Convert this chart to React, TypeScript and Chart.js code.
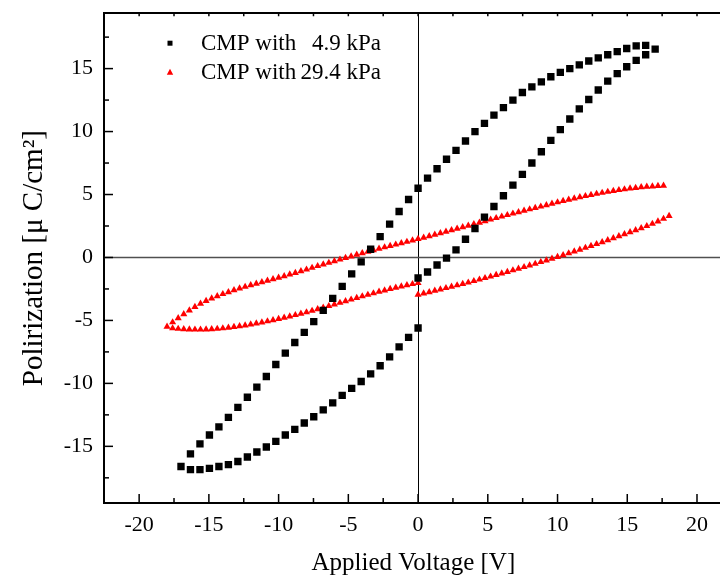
import { useEffect, useRef } from 'react';
import { Chart, registerables } from 'chart.js';

Chart.register(...registerables);

const FONT = "'Liberation Serif', 'Times New Roman', serif";

// ---- Data: CMP with 4.9 kPa (black squares) ----
const LOW_UP_V = [0, 0.68, 1.36, 2.04, 2.72, 3.4, 4.08, 4.76, 5.44, 6.12, 6.8, 7.48, 8.16, 8.84, 9.52, 10.2, 10.88, 11.56, 12.24, 12.92, 13.6, 14.28, 14.96, 15.64, 16.32, 17.0];
const LOW_UP_P = [-1.63, -1.15, -0.6, -0.05, 0.6, 1.45, 2.3, 3.2, 4.05, 4.9, 5.75, 6.6, 7.5, 8.4, 9.3, 10.15, 11.0, 11.8, 12.55, 13.3, 14.0, 14.6, 15.15, 15.65, 16.1, 16.55];
const LOW_DOWN_V = [16.32, 15.64, 14.96, 14.28, 13.6, 12.92, 12.24, 11.56, 10.88, 10.2, 9.52, 8.84, 8.16, 7.48, 6.8, 6.12, 5.44, 4.76, 4.08, 3.4, 2.72, 2.04, 1.36, 0.68, 0, -0.68, -1.36, -2.04, -2.72, -3.4, -4.08, -4.76, -5.44, -6.12, -6.8, -7.48, -8.16, -8.84, -9.52, -10.2, -10.88, -11.56, -12.24, -12.92, -13.6, -14.28, -14.96, -15.64, -16.32, -17.0];
const LOW_DOWN_P = [16.85, 16.8, 16.6, 16.35, 16.1, 15.85, 15.6, 15.3, 15.0, 14.7, 14.35, 13.95, 13.55, 13.1, 12.5, 11.9, 11.3, 10.65, 10.0, 9.25, 8.5, 7.8, 7.05, 6.3, 5.5, 4.6, 3.65, 2.65, 1.65, 0.65, -0.35, -1.3, -2.3, -3.25, -4.2, -5.1, -5.95, -6.75, -7.6, -8.5, -9.45, -10.3, -11.1, -11.9, -12.7, -13.45, -14.1, -14.8, -15.6, -16.6];
const LOW_BACK_V = [-16.32, -15.64, -14.96, -14.28, -13.6, -12.92, -12.24, -11.56, -10.88, -10.2, -9.52, -8.84, -8.16, -7.48, -6.8, -6.12, -5.44, -4.76, -4.08, -3.4, -2.72, -2.04, -1.36, -0.68, 0];
const LOW_BACK_P = [-16.85, -16.85, -16.75, -16.6, -16.45, -16.2, -15.85, -15.45, -15.05, -14.6, -14.1, -13.65, -13.15, -12.65, -12.1, -11.55, -10.95, -10.4, -9.85, -9.25, -8.6, -7.9, -7.1, -6.35, -5.6];

// ---- Data: CMP with 29.4 kPa (red triangles) ----
const HIGH_UP_V = [0, 0.4, 0.8, 1.2, 1.6, 2, 2.4, 2.8, 3.2, 3.6, 4, 4.4, 4.8, 5.2, 5.6, 6, 6.4, 6.8, 7.2, 7.6, 8, 8.4, 8.8, 9.2, 9.6, 10, 10.4, 10.8, 11.2, 11.6, 12, 12.4, 12.8, 13.2, 13.6, 14, 14.4, 14.8, 15.2, 15.6, 16, 16.4, 16.8, 17.2, 17.6, 18];
const HIGH_UP_P = [-2.95, -2.85, -2.75, -2.64, -2.54, -2.43, -2.32, -2.21, -2.1, -1.99, -1.87, -1.75, -1.63, -1.51, -1.39, -1.27, -1.15, -1.02, -0.89, -0.76, -0.63, -0.5, -0.36, -0.23, -0.09, 0.05, 0.19, 0.33, 0.48, 0.62, 0.77, 0.92, 1.07, 1.22, 1.37, 1.53, 1.69, 1.85, 2.01, 2.17, 2.33, 2.5, 2.68, 2.87, 3.07, 3.3];
const HIGH_DOWN_V = [17.6, 17.2, 16.8, 16.4, 16, 15.6, 15.2, 14.8, 14.4, 14, 13.6, 13.2, 12.8, 12.4, 12, 11.6, 11.2, 10.8, 10.4, 10, 9.6, 9.2, 8.8, 8.4, 8, 7.6, 7.2, 6.8, 6.4, 6, 5.6, 5.2, 4.8, 4.4, 4, 3.6, 3.2, 2.8, 2.4, 2, 1.6, 1.2, 0.8, 0.4, 0, -0.4, -0.8, -1.2, -1.6, -2, -2.4, -2.8, -3.2, -3.6, -4, -4.4, -4.8, -5.2, -5.6, -6, -6.4, -6.8, -7.2, -7.6, -8, -8.4, -8.8, -9.2, -9.6, -10, -10.4, -10.8, -11.2, -11.6, -12, -12.4, -12.8, -13.2, -13.6, -14, -14.4, -14.8, -15.2, -15.6, -16, -16.4, -16.8, -17.2, -17.6, -18];
const HIGH_DOWN_P = [5.7, 5.68, 5.65, 5.62, 5.58, 5.53, 5.48, 5.42, 5.36, 5.29, 5.22, 5.14, 5.06, 4.97, 4.88, 4.79, 4.69, 4.59, 4.49, 4.38, 4.27, 4.16, 4.05, 3.94, 3.83, 3.72, 3.6, 3.49, 3.37, 3.25, 3.13, 3.01, 2.89, 2.77, 2.65, 2.53, 2.41, 2.29, 2.17, 2.05, 1.93, 1.81, 1.69, 1.58, 1.47, 1.36, 1.25, 1.14, 1.03, 0.92, 0.81, 0.7, 0.58, 0.46, 0.34, 0.22, 0.09, -0.03, -0.16, -0.29, -0.42, -0.55, -0.68, -0.82, -0.96, -1.09, -1.22, -1.35, -1.48, -1.6, -1.72, -1.84, -1.96, -2.08, -2.2, -2.33, -2.46, -2.6, -2.75, -2.9, -3.07, -3.25, -3.45, -3.67, -3.92, -4.2, -4.5, -4.82, -5.15, -5.5];
const HIGH_BACK_V = [-17.6, -17.2, -16.8, -16.4, -16, -15.6, -15.2, -14.8, -14.4, -14, -13.6, -13.2, -12.8, -12.4, -12, -11.6, -11.2, -10.8, -10.4, -10, -9.6, -9.2, -8.8, -8.4, -8, -7.6, -7.2, -6.8, -6.4, -6, -5.6, -5.2, -4.8, -4.4, -4, -3.6, -3.2, -2.8, -2.4, -2, -1.6, -1.2, -0.8, -0.4, 0];
const HIGH_BACK_P = [-5.62, -5.66, -5.69, -5.71, -5.72, -5.72, -5.71, -5.69, -5.66, -5.62, -5.57, -5.52, -5.46, -5.39, -5.32, -5.24, -5.16, -5.07, -4.98, -4.88, -4.78, -4.68, -4.57, -4.46, -4.35, -4.23, -4.11, -3.99, -3.86, -3.73, -3.6, -3.47, -3.34, -3.21, -3.08, -2.96, -2.84, -2.72, -2.61, -2.5, -2.4, -2.3, -2.2, -2.11, -2.03];

const LEGEND_PREFIX = 'CMP with';
const PRESSURES = ['4.9 kPa', '29.4 kPa'];
const X_TITLE = 'Applied Voltage [V]';
const Y_TITLE = 'Polirization [\u03bc C/cm\u00b2]';
const X_MARKS = [-20, -17.5, -15, -12.5, -10, -7.5, -5, -2.5, 0, 2.5, 5, 7.5, 10, 12.5, 15, 17.5, 20];
const Y_MARKS = [-17.5, -15, -12.5, -10, -7.5, -5, -2.5, 0, 2.5, 5, 7.5, 10, 12.5, 15, 17.5];

function toPoints(vs: number[][], ps: number[][]) {
  const out: { x: number; y: number }[] = [];
  vs.forEach((v, b) => v.forEach((x, i) => out.push({ x, y: ps[b][i] })));
  return out;
}

const framePlugin = {
  id: 'frame',
  beforeDatasetsDraw(chart: any) {
    const { ctx, chartArea } = chart;
    const { left, right, top, bottom } = chartArea;
    const xs = chart.scales.x;
    const ys = chart.scales.y;
    ctx.save();
    const x0 = Math.round(xs.getPixelForValue(0)) + 0.5;
    ctx.strokeStyle = '#000';
    ctx.lineWidth = 1;
    ctx.beginPath();
    ctx.moveTo(x0, top);
    ctx.lineTo(x0, bottom);
    ctx.stroke();
    const y0 = ys.getPixelForValue(0);
    ctx.strokeStyle = '#505050';
    ctx.lineWidth = 1.5;
    ctx.beginPath();
    ctx.moveTo(left, y0);
    ctx.lineTo(right, y0);
    ctx.stroke();

    ctx.strokeStyle = '#000';
    ctx.lineWidth = 1.5;
    X_MARKS.forEach((v) => {
      const px = xs.getPixelForValue(v);
      const major = v % 5 === 0;
      ctx.beginPath();
      ctx.moveTo(px, bottom);
      ctx.lineTo(px, bottom - (major ? 9 : 5));
      ctx.moveTo(px, top);
      ctx.lineTo(px, top + 3);
      ctx.stroke();
    });
    Y_MARKS.forEach((v) => {
      const py = ys.getPixelForValue(v);
      const major = v % 5 === 0;
      ctx.beginPath();
      ctx.moveTo(left, py);
      ctx.lineTo(left + (major ? 9 : 5), py);
      ctx.stroke();
    });
    ctx.restore();
  },
  afterDraw(chart: any) {
    const { ctx, chartArea } = chart;
    const { left, top } = chartArea;
    const datasets = chart.data.datasets;
    ctx.save();
    ctx.font = `23px ${FONT}`;
    ctx.fillStyle = '#000';
    ctx.textBaseline = 'alphabetic';
    PRESSURES.forEach((p, i) => {
      const cy = top + 30 + i * 29;
      const mx = left + 66;
      const ds = datasets[i];
      ctx.fillStyle = ds.backgroundColor;
      if (ds.pointStyle === 'rect') {
        ctx.fillRect(mx - 2.5, cy - 2.5, 5, 5);
      } else {
        ctx.beginPath();
        ctx.moveTo(mx, cy - 3.5);
        ctx.lineTo(mx + 3.2, cy + 2.5);
        ctx.lineTo(mx - 3.2, cy + 2.5);
        ctx.closePath();
        ctx.fill();
      }
      ctx.fillStyle = '#000';
      ctx.textAlign = 'left';
      ctx.fillText(LEGEND_PREFIX, left + 97, cy + 7);
      ctx.textAlign = 'right';
      ctx.fillText(p, left + 277, cy + 7);
    });
    ctx.restore();
  },
};

export default function App() {
  const ref = useRef<HTMLCanvasElement>(null);
  useEffect(() => {
    if (!ref.current) return;
    const chart = new Chart(ref.current, {
      type: 'scatter',
      data: {
        datasets: [
          {
            label: `${LEGEND_PREFIX} ${PRESSURES[0]}`,
            data: toPoints([LOW_UP_V, LOW_DOWN_V, LOW_BACK_V], [LOW_UP_P, LOW_DOWN_P, LOW_BACK_P]),
            pointStyle: 'rect',
            pointRadius: 5.2,
            pointBorderWidth: 0,
            backgroundColor: '#000000',
            borderColor: '#000000',
            showLine: false,
          },
          {
            label: `${LEGEND_PREFIX} ${PRESSURES[1]}`,
            data: toPoints([HIGH_UP_V, HIGH_DOWN_V, HIGH_BACK_V], [HIGH_UP_P, HIGH_DOWN_P, HIGH_BACK_P]),
            pointStyle: 'triangle',
            pointRadius: 4.1,
            pointBorderWidth: 0,
            backgroundColor: '#ff0000',
            borderColor: '#ff0000',
            showLine: false,
          },
        ],
      },
      options: {
        responsive: false,
        maintainAspectRatio: false,
        animation: false,
        layout: { padding: 0 },
        plugins: { legend: { display: false }, tooltip: { enabled: false } },
        scales: {
          x: {
            type: 'linear',
            position: 'bottom',
            min: -22.52,
            max: 21.85,
            ticks: { stepSize: 5, includeBounds: false, autoSkip: false, maxRotation: 0, padding: 9, color: '#000', font: { family: FONT, size: 22 } },
            grid: { display: false, drawTicks: false },
            border: { display: true, color: '#000', width: 2 },
            title: { display: true, text: X_TITLE, color: '#000', font: { family: FONT, size: 25 }, padding: { top: 0, bottom: 0 } },
            afterFit: (s: any) => { s.height = 75; s.paddingLeft = 0; s.paddingRight = 0; },
          },
          x2: {
            type: 'linear',
            position: 'top',
            min: -22.52,
            max: 21.85,
            ticks: { display: false },
            grid: { display: false, drawTicks: false },
            border: { display: true, color: '#000', width: 2 },
            afterFit: (s: any) => { s.height = 2; s.paddingLeft = 0; s.paddingRight = 0; },
          },
          y: {
            type: 'linear',
            position: 'left',
            min: -19.5,
            max: 19.4,
            ticks: { stepSize: 5, includeBounds: false, autoSkip: false, padding: 11, color: '#000', font: { family: FONT, size: 22 } },
            grid: { display: false, drawTicks: false },
            border: { display: true, color: '#000', width: 2 },
            title: { display: true, text: Y_TITLE, color: '#000', font: { family: FONT, size: 29 }, padding: { top: 9, bottom: 0 } },
            afterFit: (s: any) => { s.width = 96; s.paddingTop = 0; s.paddingBottom = 0; },
          },
        },
      },
      plugins: [framePlugin],
    } as any);
    return () => chart.destroy();
  }, []);
  return <canvas ref={ref} width={720} height={570} style={{ display: 'block' }} />;
}
